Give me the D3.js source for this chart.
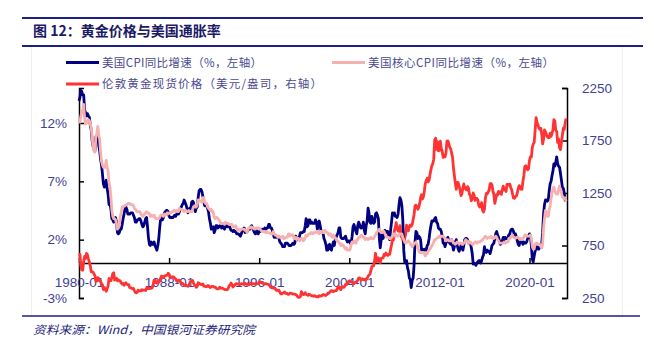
<!DOCTYPE html>
<html><head><meta charset="utf-8">
<script src="https://cdn.jsdelivr.net/npm/d3@7"></script>
<style>body{margin:0;background:#fff}</style>
</head><body>
<svg id="c" width="654" height="341"></svg>
<script>
// ---- data (monthly, starting 1980-01) ----
const startDate = new Date(1980, 0, 1);
const cpiYoY = [
13.9,14.2,14.8,14.7,14.4,14.4,13.1,12.9,12.6,12.8,12.6,12.5,
11.8,11.4,10.5,10.0,9.8,9.6,10.8,10.8,11.0,10.1,9.6,8.9,
8.4,7.6,6.8,6.5,6.7,7.1,6.4,5.9,5.0,5.1,4.6,3.8,
3.7,3.5,3.6,3.9,3.5,2.6,2.5,2.6,2.9,2.9,3.3,3.8,
4.2,4.6,4.8,4.6,4.2,4.2,4.2,4.3,4.3,4.3,4.1,3.9,
3.5,3.5,3.7,3.7,3.8,3.8,3.6,3.3,3.1,3.2,3.5,3.8,
3.9,3.1,2.2,1.6,1.5,1.8,1.6,1.6,1.8,1.5,1.3,1.1,
1.5,2.1,3.0,3.8,3.9,3.7,3.9,4.3,4.4,4.5,4.5,4.4,
4.0,3.9,3.9,3.9,3.9,4.0,4.1,4.0,4.2,4.2,4.2,4.4,
4.7,4.8,5.0,5.1,5.4,5.2,5.0,4.7,4.3,4.5,4.7,4.6,
5.2,5.3,5.2,4.7,4.4,4.7,4.8,5.6,6.2,6.3,6.3,6.1,
5.7,5.3,4.9,4.9,5.0,4.7,4.4,3.8,3.4,2.9,3.0,3.1,
2.6,2.8,3.2,3.2,3.0,3.1,3.2,3.1,3.0,3.2,3.0,2.9,
3.3,3.2,3.1,3.2,3.2,3.0,2.8,2.8,2.7,2.8,2.7,2.7,
2.5,2.5,2.5,2.4,2.3,2.5,2.8,2.9,3.0,2.6,2.7,2.7,
2.8,2.9,2.9,3.1,3.2,3.0,2.8,2.6,2.5,2.8,2.6,2.5,
2.7,2.7,2.8,2.9,2.9,2.8,3.0,2.9,3.0,3.0,3.3,3.3,
3.0,3.0,2.8,2.5,2.2,2.3,2.2,2.2,2.2,2.1,1.8,1.7,
1.6,1.4,1.4,1.4,1.7,1.7,1.7,1.6,1.5,1.5,1.5,1.6,
1.7,1.6,1.7,2.3,2.1,2.0,2.1,2.3,2.6,2.6,2.6,2.7,
2.7,3.2,3.8,3.1,3.2,3.7,3.7,3.4,3.5,3.4,3.4,3.4,
3.7,3.5,2.9,3.3,3.6,3.2,2.7,2.7,2.6,2.1,1.9,1.6,
1.1,1.1,1.5,1.6,1.2,1.1,1.5,1.8,1.5,2.0,2.2,2.4,
2.6,3.0,3.0,2.2,2.1,2.1,2.1,2.2,2.3,2.0,1.8,1.9,
1.9,1.7,1.7,2.3,3.1,3.3,3.0,2.7,2.5,3.2,3.5,3.3,
3.0,3.0,3.1,3.5,2.8,2.5,3.2,3.6,4.7,4.3,3.5,3.4,
4.0,3.6,3.4,3.5,4.2,4.3,4.1,3.8,2.1,1.3,2.0,2.5,
2.1,2.4,2.8,2.6,2.7,2.7,2.4,2.0,2.8,3.5,4.3,4.1,
4.3,4.0,4.0,3.9,4.2,5.0,5.6,5.4,4.9,3.7,1.1,0.1,
0.0,0.2,-0.4,-0.7,-1.3,-1.4,-2.1,-1.5,-1.3,-0.2,1.8,2.7,
2.6,2.1,2.3,2.2,2.0,1.1,1.2,1.1,1.1,1.2,1.1,1.5,
1.6,2.1,2.7,3.2,3.6,3.6,3.6,3.8,3.9,3.5,3.4,3.0,
2.9,2.9,2.7,2.3,1.7,1.7,1.4,1.7,2.0,2.2,1.8,1.7,
1.6,2.0,1.5,1.1,1.4,1.8,2.0,1.5,1.2,1.0,1.2,1.5,
1.6,1.1,1.5,2.0,2.1,2.1,2.0,1.7,1.7,1.7,1.3,0.8,
-0.1,0.0,-0.1,-0.2,0.0,0.1,0.2,0.2,0.0,0.2,0.5,0.7,
1.4,1.0,0.9,1.1,1.0,1.0,0.8,1.1,1.5,1.6,1.7,2.1,
2.5,2.7,2.4,2.2,1.9,1.6,1.7,1.9,2.2,2.0,2.2,2.1,
2.1,2.2,2.4,2.5,2.8,2.9,2.9,2.7,2.3,2.5,2.2,1.9,
1.6,1.5,1.9,2.0,1.8,1.6,1.8,1.7,1.7,1.8,2.1,2.3,
2.5,2.3,1.5,0.3,0.1,0.6,1.0,1.3,1.4,1.2,1.2,1.4,
1.4,1.7,2.6,4.2,5.0,5.4,5.4,5.3,5.4,6.2,6.8,7.0,
7.5,7.9,8.5,8.3,8.6,9.1,8.5,8.3,8.2,7.7,7.1,6.5,
6.4,6.0,5.4,5.6];
const coreCpiYoY = [
12.0,12.1,12.6,13.0,13.1,13.6,12.4,11.9,12.0,12.2,12.3,12.2,
11.9,11.6,10.8,10.0,9.6,9.5,10.8,11.1,11.7,11.0,10.6,9.5,
8.7,8.4,8.2,8.3,8.2,8.8,8.2,7.9,6.9,6.5,5.7,4.5,
4.0,3.8,3.8,3.7,3.4,2.9,3.0,3.3,4.0,4.3,4.8,4.8,
4.9,4.9,5.0,5.0,5.1,5.1,5.1,5.0,5.0,5.0,4.9,4.7,
4.6,4.5,4.4,4.4,4.4,4.4,4.2,4.1,4.0,4.1,4.2,4.3,
4.4,4.3,4.3,4.2,4.0,4.1,4.0,4.0,4.1,3.9,3.8,3.8,
3.8,3.8,3.9,4.1,4.1,4.1,4.0,4.2,4.1,4.2,4.3,4.2,
4.3,4.3,4.3,4.4,4.4,4.5,4.5,4.4,4.5,4.4,4.4,4.7,
4.6,4.6,4.6,4.5,4.4,4.5,4.5,4.4,4.4,4.5,4.4,4.4,
4.4,4.6,4.8,4.9,4.8,4.8,5.0,5.4,5.4,5.3,5.3,5.2,
5.6,5.6,5.2,5.1,5.1,4.8,4.7,4.6,4.5,4.6,4.4,4.4,
3.9,3.8,3.9,3.9,3.8,3.7,3.6,3.4,3.4,3.4,3.4,3.3,
3.5,3.4,3.4,3.4,3.3,3.3,3.3,3.3,3.1,3.1,3.1,3.2,
2.9,2.8,2.9,2.8,2.8,2.9,2.9,2.9,2.9,2.8,2.8,2.6,
2.9,3.0,3.0,3.1,3.1,3.0,3.0,2.9,2.9,3.0,3.0,3.0,
3.0,2.9,2.8,2.7,2.7,2.7,2.7,2.6,2.7,2.6,2.6,2.6,
2.5,2.5,2.5,2.7,2.5,2.4,2.4,2.3,2.2,2.3,2.2,2.2,
2.2,2.3,2.1,2.1,2.2,2.2,2.2,2.5,2.5,2.3,2.4,2.4,
2.4,2.1,2.1,2.2,2.0,2.1,2.1,1.9,2.0,2.1,2.1,1.9,
2.0,2.2,2.4,2.3,2.4,2.5,2.5,2.6,2.6,2.5,2.6,2.6,
2.6,2.7,2.7,2.6,2.5,2.7,2.7,2.7,2.6,2.6,2.8,2.7,
2.6,2.6,2.4,2.5,2.5,2.3,2.2,2.4,2.2,2.2,2.0,1.9,
1.9,1.7,1.7,1.5,1.6,1.5,1.5,1.3,1.2,1.3,1.1,1.1,
1.1,1.2,1.6,1.8,1.7,1.9,1.8,1.7,2.0,2.0,2.2,2.2,
2.3,2.4,2.3,2.2,2.2,2.0,2.1,2.1,2.0,2.1,2.1,2.2,
2.1,2.1,2.1,2.3,2.4,2.6,2.7,2.8,2.9,2.7,2.6,2.6,
2.7,2.7,2.5,2.3,2.2,2.2,2.2,2.1,2.1,2.2,2.3,2.4,
2.5,2.3,2.4,2.3,2.3,2.4,2.5,2.5,2.5,2.2,2.0,1.8,
1.7,1.8,1.8,1.9,1.8,1.7,1.5,1.4,1.5,1.7,1.7,1.8,
1.6,1.3,1.1,0.9,0.9,0.9,0.9,0.9,0.8,0.6,0.8,0.8,
1.0,1.1,1.2,1.3,1.5,1.6,1.8,2.0,2.0,2.1,2.2,2.2,
2.3,2.2,2.3,2.3,2.3,2.2,2.1,1.9,2.0,2.0,1.9,1.9,
1.9,2.0,1.9,1.7,1.7,1.6,1.7,1.8,1.7,1.7,1.7,1.7,
1.6,1.6,1.7,1.8,2.0,1.9,1.9,1.7,1.7,1.8,1.7,1.6,
1.6,1.7,1.8,1.8,1.7,1.8,1.8,1.8,1.9,1.9,2.0,2.1,
2.2,2.3,2.2,2.1,2.2,2.2,2.2,2.3,2.2,2.1,2.1,2.2,
2.3,2.2,2.0,1.9,1.7,1.7,1.7,1.7,1.7,1.8,1.7,1.8,
1.8,1.8,2.1,2.1,2.2,2.3,2.4,2.2,2.2,2.1,2.2,2.2,
2.2,2.1,2.0,2.1,2.0,2.1,2.2,2.4,2.4,2.3,2.3,2.3,
2.3,2.4,2.1,1.4,1.2,1.2,1.6,1.7,1.7,1.6,1.6,1.6,
1.4,1.3,1.6,3.0,3.8,4.5,4.3,4.0,4.0,4.6,4.9,5.5,
6.0,6.4,6.5,6.2,6.0,5.9,5.9,6.3,6.6,6.3,6.0,5.7,
5.6,5.5,5.6,5.3];
const goldPrice = [
675,665,553,517,514,600,645,627,674,661,623,594,
557,500,499,495,480,461,409,410,443,437,413,410,
384,374,330,350,334,315,339,364,436,422,415,444,
481,491,420,432,438,413,423,416,411,394,382,388,
371,387,395,381,377,377,348,348,341,340,341,320,
303,299,304,325,316,317,317,330,324,326,325,322,
345,339,346,340,342,343,348,376,418,423,398,391,
408,401,409,438,460,450,450,461,460,465,467,486,
477,442,444,452,451,452,437,432,413,406,419,419,
404,388,391,384,371,368,375,365,362,367,394,409,
410,417,393,374,369,352,362,395,389,381,381,378,
384,363,363,358,357,367,368,356,349,358,360,361,
354,354,345,338,337,341,353,343,345,344,335,334,
329,330,330,342,367,372,392,378,355,364,374,383,
387,382,384,377,381,386,385,380,391,389,384,379,
379,376,382,391,385,387,386,383,383,383,386,387,
400,405,396,393,392,385,383,387,383,381,378,369,
355,347,352,344,344,341,324,324,323,325,306,289,
289,297,296,308,299,292,293,284,289,296,294,291,
287,287,286,282,277,262,256,257,265,311,293,283,
285,300,286,280,275,286,282,275,273,270,266,272,
266,262,263,261,272,270,268,273,283,283,276,276,
282,296,294,302,314,322,314,310,319,317,319,333,
357,359,341,329,355,356,351,360,379,379,389,407,
414,405,406,404,384,392,398,400,406,420,439,442,
424,423,434,429,422,430,424,437,456,470,476,510,
549,555,557,610,676,596,633,632,598,585,627,629,
631,665,655,679,667,655,665,665,712,754,806,803,
889,922,968,909,888,889,939,839,829,806,760,816,
858,943,925,890,928,946,934,949,996,1043,1127,1134,
1118,1095,1113,1148,1205,1233,1193,1215,1271,1342,1370,1391,
1356,1372,1424,1473,1510,1529,1572,1756,1772,1666,1739,1652,
1656,1743,1675,1649,1589,1598,1594,1630,1745,1747,1721,1685,
1671,1628,1593,1487,1414,1343,1286,1352,1349,1316,1275,1225,
1244,1300,1336,1299,1287,1279,1311,1296,1239,1222,1176,1201,
1250,1227,1179,1198,1199,1181,1131,1117,1125,1159,1086,1068,
1097,1200,1246,1242,1260,1276,1337,1341,1326,1267,1238,1151,
1192,1234,1231,1266,1246,1260,1237,1283,1315,1280,1283,1265,
1331,1331,1325,1335,1303,1282,1238,1202,1199,1215,1221,1250,
1291,1320,1300,1286,1284,1359,1413,1500,1510,1495,1471,1480,
1560,1597,1592,1683,1716,1732,1847,1968,1921,1900,1866,1858,
1867,1808,1718,1760,1851,1834,1807,1785,1776,1777,1821,1790,
1817,1856,1948,1937,1849,1836,1733,1765,1681,1664,1726,1798,
1868,1855,1913,1960];
const xTickLabels = ["1980-01","1988-01","1996-01","2004-01","2012-01","2020-01"];
const leftTicks = [-3, 2, 7, 12];
const rightTicks = [250, 750, 1250, 1750, 2250];
const seriesNames = ["美国CPI同比增速（%，左轴）","美国核心CPI同比增速（%，左轴）","伦敦黄金现货价格（美元/盎司，右轴）"];
const titleText = "图 12：黄金价格与美国通胀率";
const sourceText = "资料来源：Wind，中国银河证券研究院";

// ---- drawing ----
const svg = d3.select("#c");
const C = {navy:"#000080", pink:"#F7B0B0", red:"#FF3333", lab:"#3f3f95", rule:"#1f1f8a"};
const parse = d3.timeParse("%Y-%m");
const dateAt = i => d3.timeMonth.offset(startDate, i);

const x = d3.scaleTime().domain([startDate, new Date(2023, 4, 1)]).range([79, 567]);
const yL = d3.scaleLinear().domain([-3, 15]).range([298, 88]);
const yR = d3.scaleLinear().domain([250, 2250]).range([298, 88]);

// frame & rules
svg.append("rect").attr("x",31.5).attr("y",46).attr("width",591).attr("height",270).attr("fill","none").attr("stroke","#f0f0f0");
svg.append("line").attr("x1",22).attr("x2",643).attr("y1",18).attr("y2",18).attr("stroke",C.rule).attr("stroke-width",2);
svg.append("line").attr("x1",22).attr("x2",643).attr("y1",46).attr("y2",46).attr("stroke",C.rule).attr("stroke-width",2);
svg.append("line").attr("x1",22).attr("x2",640).attr("y1",316).attr("y2",316).attr("stroke",C.rule).attr("stroke-width",1.5);
svg.append("text").attr("x",33).attr("y",36).text(titleText)
  .attr("font-family","'Noto Sans CJK SC',sans-serif").attr("font-weight","bold").attr("font-size",14).attr("fill","#1a1a66");
svg.append("text").attr("x",33).attr("y",334).text(sourceText)
  .attr("font-family","'Noto Sans CJK SC',sans-serif").attr("font-style","italic").attr("font-size",11.5).attr("fill","#23237a")
  .attr("textLength",222).attr("lengthAdjust","spacingAndGlyphs");

// legend
const legend = [
  {name:seriesNames[0], color:C.navy, x:66, y:62.5, w:160},
  {name:seriesNames[1], color:C.pink, x:332, y:62.5, w:186},
  {name:seriesNames[2], color:C.red, x:66, y:84, w:220}
];
legend.forEach(l => {
  svg.append("line").attr("x1",l.x).attr("x2",l.x+33).attr("y1",l.y).attr("y2",l.y).attr("stroke",l.color).attr("stroke-width",3);
  svg.append("text").attr("x",l.x+36).attr("y",l.y+4).text(l.name)
    .attr("font-family","'Noto Sans CJK SC',sans-serif").attr("font-size",11.5).attr("fill","#4a4a90")
    .attr("textLength",l.w).attr("lengthAdjust","spacing");
});

// axes
const numFont = "'Liberation Sans',Arial,sans-serif";
const gL = svg.append("g").attr("transform","translate(79,0)")
  .call(d3.axisLeft(yL).tickValues(leftTicks).tickFormat(d => d+"%").tickSizeInner(-5).tickSizeOuter(-5).tickPadding(12));
const gR = svg.append("g").attr("transform","translate(567,0)")
  .call(d3.axisRight(yR).tickValues(rightTicks).tickFormat(d3.format("d")).tickSizeInner(-5).tickSizeOuter(-5).tickPadding(15));
const gX = svg.append("g").attr("transform",`translate(0,${yL(0)})`)
  .call(d3.axisBottom(x).tickValues(xTickLabels.map(parse)).tickFormat(d3.timeFormat("%Y-%m")).tickSizeInner(-5).tickSizeOuter(0).tickPadding(14));
[gL,gR,gX].forEach(g => {
  g.selectAll("path,line").attr("stroke","#000").attr("stroke-width",1.5);
  g.selectAll("text").attr("font-family",numFont).attr("font-size",13.5).attr("fill",C.lab);
});

// lines
const mk = (arr, ys) => d3.line().x((d,i)=>x(dateAt(i))).y(d=>ys(d))(arr);
svg.append("path").attr("d",mk(goldPrice,yR)).attr("fill","none").attr("stroke",C.red).attr("stroke-width",2.8).attr("stroke-linejoin","round");
svg.append("path").attr("d",mk(cpiYoY,yL)).attr("fill","none").attr("stroke",C.navy).attr("stroke-width",2.8).attr("stroke-linejoin","round");
svg.append("path").attr("d",mk(coreCpiYoY,yL)).attr("fill","none").attr("stroke",C.pink).attr("stroke-width",2.8).attr("stroke-linejoin","round");
</script>
</body></html>
